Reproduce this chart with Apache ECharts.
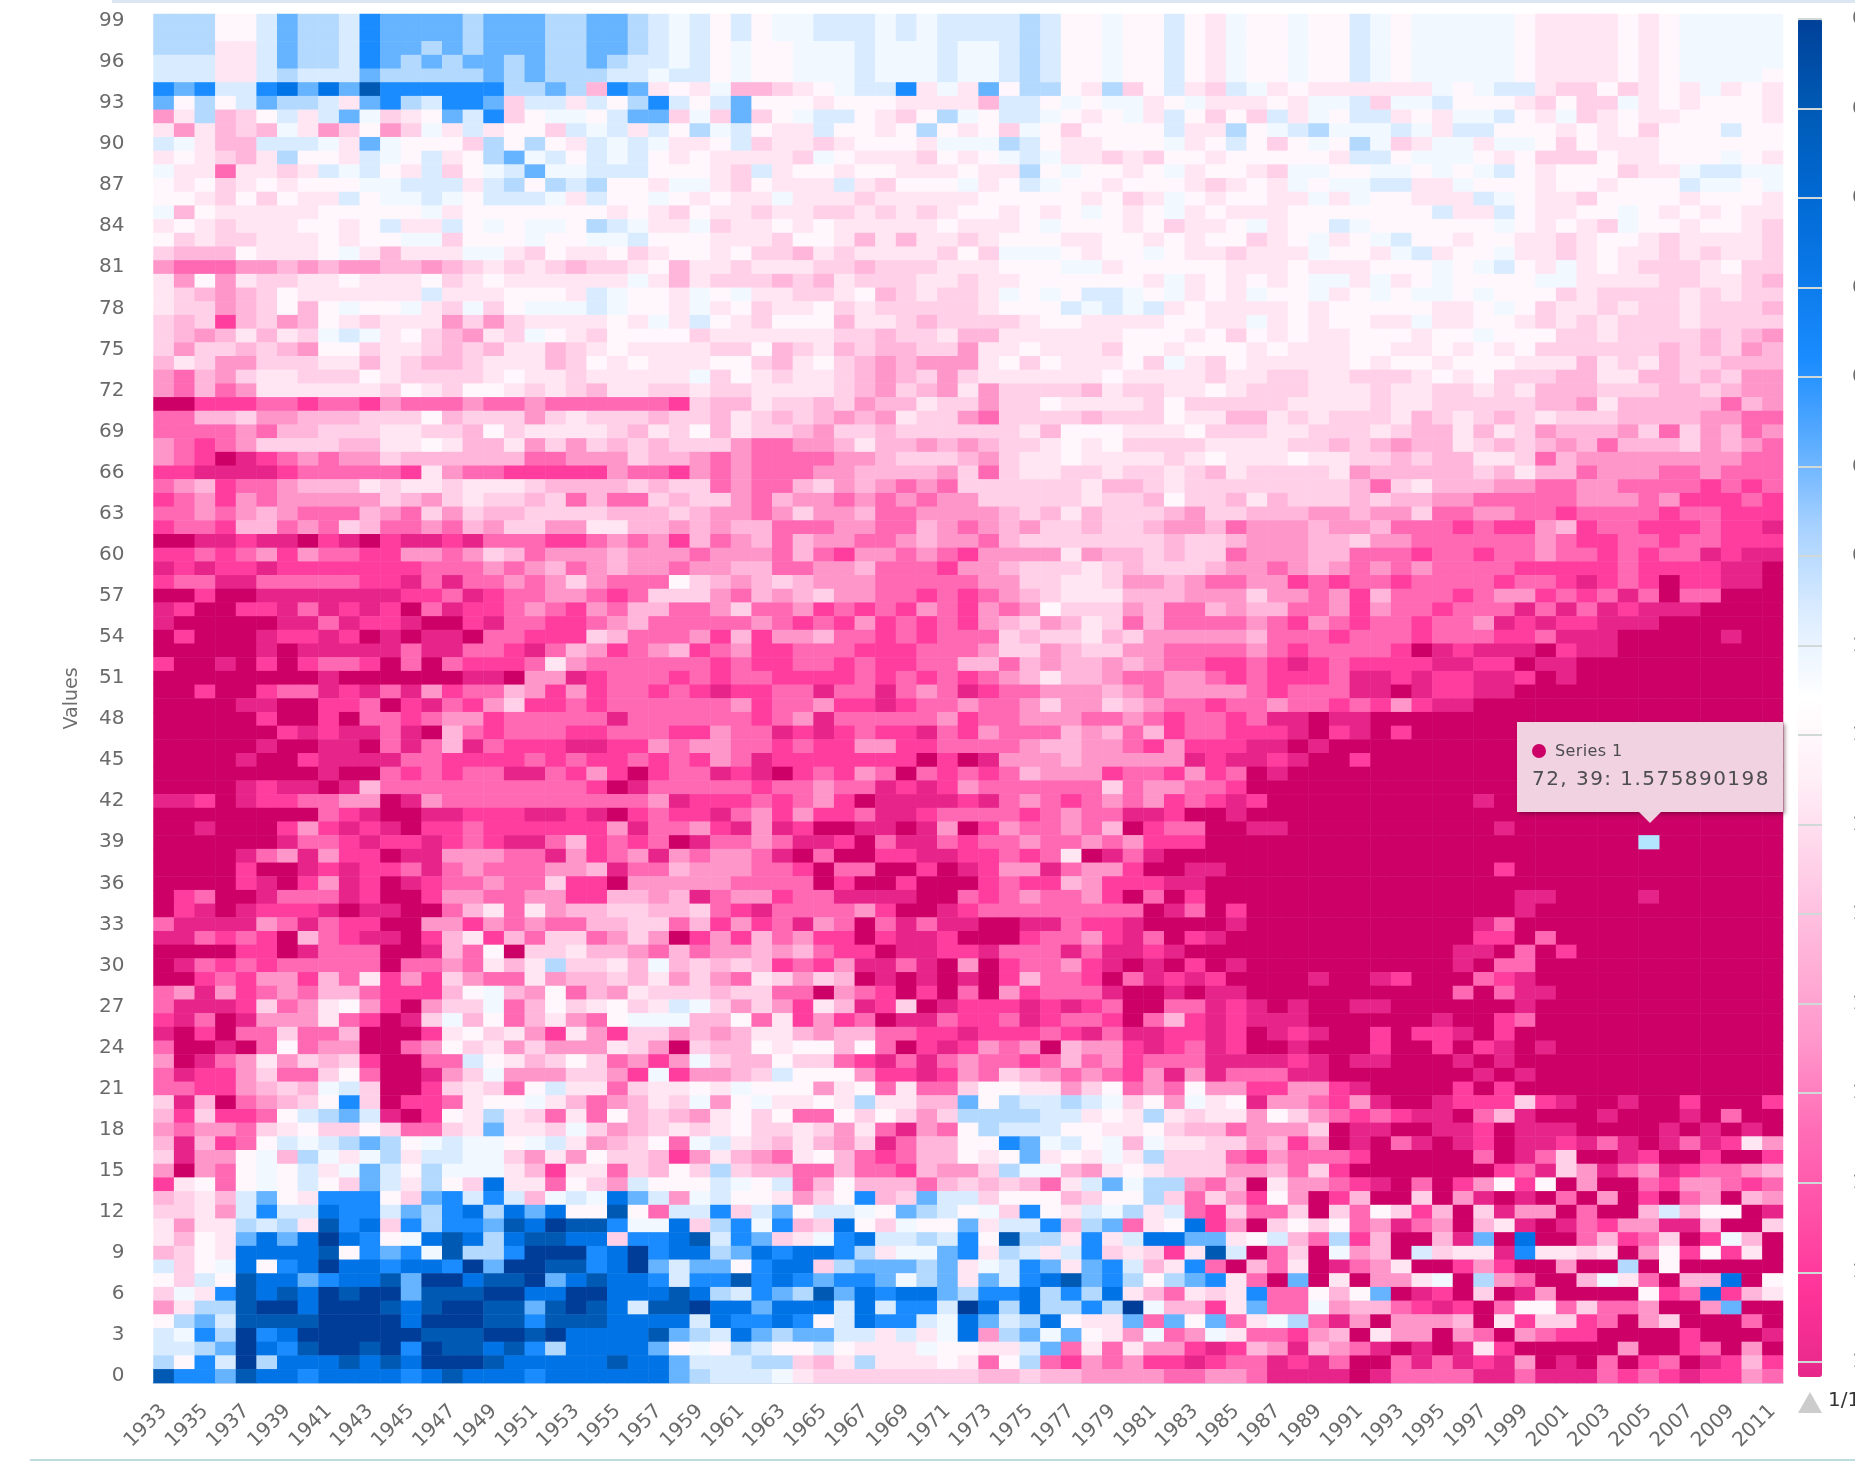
<!DOCTYPE html>
<html><head><meta charset="utf-8">
<style>html,body{margin:0;padding:0;background:#fff;overflow:hidden}#c{width:1855px;height:1466px;filter:blur(.55px)}</style>
<script src="https://cdn.jsdelivr.net/npm/echarts@6/dist/echarts.min.js"></script>
</head><body><div id="c"></div>
<script>
// Each letter is one cell's estimated value level. Rows run 99 -> 0.
const levelKeys = 'abcdefghijklmnopq';
const levelValues = [0.30,0.38,0.46,0.54,0.62,0.70,0.78,0.86,0.94,1.02,1.10,1.18,1.26,1.34,1.42,1.50,1.58];
const levelColors = ['#003d99','#0059b3','#0073e6','#1a8cff','#66b3ff','#b3d9ff','#d9ecff','#f2f8ff','#fff7fb','#ffe6f2','#ffd0e8','#ffb6da','#ff96ca','#ff69b4','#ff3d9e','#e6248a','#cc0066'];
const legendColors = ['#004099','#0059b3','#0068d1','#0a78e8','#1a8cff','#5cadff','#a8d2ff','#dcecff','#ffffff','#ffeef6','#ffd0e8','#ffb3d9','#ff99cc','#ff70b8','#ff52a8','#ff3399','#e6288a'];
const years = [];
for (let y = 1933; y <= 2011; y++) years.push(String(y));
const rowLabels = [];
for (let r = 0; r <= 99; r++) rowLabels.push(String(r));
const hoverPoint = [72, 39, 1.575890198];

const rowsLeft = `
fffiigeffg deeeefeeef feefghg
fffiigeffg deeeefeeef feefghg
fffjjgeffg deefefeeef feefghg
gggjjgeffg defefeefef fefgghg
gggjjgfggg efffffefef ffgghgg
dedggdcece bddddddffe fldejij
eifigeffgj edfgddekgg jgifdgi
mjflkigjge hkjiegdkih higeekh
jmjlklhjmk imkhjgjiik ghgjgif
ghjllggghj ehiiikfifi jghghjj
jijkljfiij ghigjifehg ighgiji
hjjnjjkjgh gijgkihgeh hgggiii
ijikjijiii hhgggjgfif gfiijhh
iijkikijjg ihhghigggh jgiihij
hlijjjjjii iiihjiiiii iijijki
jijkjjjiij igjjgihihh ifghjjh
ikjkkjjjij iihhkiiihi ihhgiii
klllijjjih jljjjhhjki jjikjii
mnnnmmlmlm mllmlkjkjk lkkjilj
jmimjkkjji jjjikjijjj jjjhjlj
jklmlkijjj jjjgjjjiii jghiijh
jkkmlkilih iihjkhkihh hghiijh
klkolkmlij kjjjmkmkjj jjijhjg
klmljljkhg hjiklmjkhi jkiiiik
kmkklklmii kjjklkljjl kjijjjj
ljkmmkkkjj ljkllkjjjl kijijjj
mnlmkjjkkk ijkkkkjijj kjjjjjh
mnlnmjjjjj jkijkiijkj kljjkkj
qqooonnonn omnnnmnnmn nnnnnok
nnllkmmlll kkkilkkkmk jkkklkk
nnnnmnllkk kjjkklikjj jjkljki
mnonmkkkkl ljjijlljmk mklklkk
mnoqponmnm mkllllllnn mmmkllm
oopppponnn nnojmnnooo oomnnom
nmlonnmlll jkjjkjjjkl lllklkk
onmomnmmmm mklmkjkklk nlnnklk
nnmnmlmnnn lmnkmkllkk kklllkl
onnollnmnk lnnmnlmkkm mjjllml
qqppoppqop qoppopnnno onmnmol
oononmomnn oommnmklnm mmlmmmn
popoopoooo ooonnnmnml nmlmmnm
onnppnnnnn oopnpnnmnm kmnnnik
qqoqqppppp ppoonponnm mnonkkk
poqqoopnpo poqnpoonmn omnllnn
pqqqqqppnp oopqqopnno onmlnnn
qoqqqpoopo qpqppqnnoo oklnnnm
qqqqqpqppp ppnppnnopn lmonmlo
oqqpqoqonn oqnqnooonj mnnnnnn
qqqqqqqqpq qqqqqppqmm ponnnon
qqoqqonnpo pnpmonnlmo monnono
qqqqppqqoo nqopnomkoo nonnnnn
qqqqqoqqoq nnonmmonnn nnpnnnn
qqqqqqopop pnpqlnonnn oonnnoo
qqqqqpqqpp qnpnlpnooo ppoomnm
qqqqpqqopp ppnnoooono noonono
qqqqqqqqpq qnononnppn omoqonn
qqqqpoppqp lnnnnnnnnn noqpnnn
ppoqpoonnm mqpmnnnnnn nnnnmpo
qqqqqqqqno pqqppooopp opqonoo
qqpqqqomop opqoonoooo oompnnm
qqqqqqpnno pooponoppn lononqp
qqqqpnmpmo oqppmmmnnp monmpmn
qqqqoqqpop oonpnmnnnm mlpnnlm
qqqqopqomp oqponnmnnk ooqmmmm
qonqqpnnnp oqqommnnmm oollmlp
qopqpooopq ppqqnljnjm llkkllk
nppppmnpno oqqmmomnmn nllkknl
ppnonoqlno ppqoljolnk knmkmqo
qqqqooqpnn nqqplniqkk jllmnln
qpnononnnn nqnnmnjljf kkjlhlk
qqonommoln jomokmnnjm llkljmk
nmpmonmnll nooolihlmi nlmjkkk
npppoknmji moqmkkhnli kjikjgh
opnqpmmmjn oqpkhlinlj mnihhhl
pqoqnnknnl qqqojikjmo jmokkml
nqqpqninmm qqnmikjmkm mmjkmqk
mqpnmjmklk oqqnngijlk iknmomh
npoomknnki nqqpmkhmmm kkmohom
nnoomlklhg kqqokjknig jjnkjji
kplqnmlkid kqoonjiihj lnmljkh
lokoonigfe gpqoijfjkn jnilklm
mnmmnkjikk iknnkjejjk hkmlkjk
lplonighgf efihghhihg jmlkinh
kpmmihlfhj hfjgghhkmj mikklom
mqmnihigjh egifhhhjlo jjnklik
ojinihigik egjfikcjjn ikmgiii
lkjlgeijdd dikedgdglh ghcegmh
kkjmgdggcd dgefdcfcec iibingg
jmjjfgfjbd ckdfddebca bbdhhck
jlijececac dihcbcfcbb cckddcb
lkijccccbi dedhbffdaa adcadcc
gkihcidcac cdccdaeaab bdcaege
ikgibccedc cbeaacbbae cbccdgd
khjdbcbcab aaebbbaacc aacccbc
mjffbaacaa abcbaabbeb abcgbba
ifegbbbbaa aacaaabbdb bbccccg
ghdfadcaaa aaabbbaaba ccccbef
ggfeacdbaa badabbcbdf cccceih
fidgafcccb cbcaaabccc ccbcceg
bddebccdcc ccdcbcccdc cccccef
`.trim().split('\n');

const rowsMiddle = `
igihhggghg hggggfgiih iigijh
igihhggghg hggggfgiih iigijh
ihiihhhghh hghhgfgiih iigijh
ihiihhhghh hghhgfgiih iigijh
ihiihhhghh hghhgfgiih iigijh
hllkjihggd jhjeiffijf kigjkg
geiiijiiij jjjlggihih hjihjj
kekihggijk ifhigghiji hjgiki
hgijjgiiji fijikhikii iigjjf
igkjjkjiii jhhhfgijji iihjig
jjjjkhijjj kijihghjjk jkiiji
jkgjiijiij jjijjfihii jihjii
jkijjjgjki iihjighiij iiijkj
ijjhjjjkjj jjjiiiiiji kjhiji
jjkjjkkjkj kjiijijihi jihjij
kjjijijjjj jijjjihiii jikjji
jjjkiijljl jjkjiiijji ijijii
jikkljkjjj jkikhhhiji ihijjk
jkjjjkklkk kjjjiiihhj iiiiij
kkklkljkkk jjkjjiiiii ijhjij
ihjjkkjilk jkkjhihigg hihjij
jikjjikjkk kkkjiiighg hgjijj
ijkiiiljjk lkkkkjiijj jjiijj
jjjjjjkklk kjlljjjjjj iiijik
kkilkjlkll kkmjjijjjk iijiii
iikljiklml mmmjikijjj ikhjki
kijkjjklml kmkjjjjjji jjjjkj
kkjjjjklmk lmjmkkkklj kkjjij
lljkklkmll jkkmkkijjj jkikkk
ljklklmlmj kkmnkkkklk kkijjl
ljkklmkklk kkkkkjliii jjjikk
kmnnmmljll mlmlkkjiji kkkkjj
nmnnnnmmlk kklmkjjijj jjkjij
nmnnnmmlll lmknkjjkkj kkjklj
nmnnlkmlmn mnkkkkkkjl lkjkkk
kmnlmmnmnm nmmkkkkkjk klikkl
mmnmkmmlnn mmmmlkljlk kklmkk
mllnnnmmnn lmnmlmkklk klmmln
nmlnlmmnnm lmmnlkkkkk kklkkl
mmmnlnommn mnommmmjml lklkkn
mllnnmmlnn nommlkkkjk lkkklm
lmlklmmmnn nnnmmkkjjk mmlmnn
mnlmlkmmnn ononmlkjjj lllmmm
mknnmonono mnomnmikkk mlnnlm
nnmnonomon onomlkmljk nlnnnn
olommlnnon onnnklkkjl kmmmmm
nmoonnnooo nnnmkkmlkk mmnnnn
onoonnonoo nnllnlmllm lmnnoo
onnoooonon ononmljllm nnmmno
poonnpnnpn mnponnmmml mnmmmm
nmonnmoopo nnmnnmkmmk lmnnon
nnonmpnnnn nmonnmmmnn mnonno
mnnpoponoo pnomnnnlml nlonno
mnnonoommo onnnnmllmm nomooo
mnpooooooo qoqpmmmlmm mmmpop
popqonomnq nononlmmmo nnomon
nnonnmnnpo pomnnnnnnk nmmnno
oononmoqpp ppopnmnonm nmonop
pnmomoonpp onnnnonmnn ppoqqp
opmpoqqppq pmqomnnmnl qonnqq
nnmnppoqnp pnonnmnnmn moooqq
mmnpqnqqoo ppoononjqp npqqqq
mmnnoqnnqq oqpommpnmm oqqppq
mnnnnqoqqo qqqonoolmo ooppqq
nmmonnpppp qqnonmnnmo qnqoqq
nopnnnnmoq qponnnnnnn nqpnqo
omonpmnqnp nppqqppnoo pqqqqp
molnmooqop poqqqonnmo pnqopq
mmlmlnooqp poopnnnpnp popqqq
lklonomppn pqmqonnmop qpqoqp
mnjkmklqpq pqpqolnnoq npopoq
lkknnqmnoq oqnqmonnnp qqpqpp
kmkmojlpok qpooopopon qqnnpo
linjomonqp pnoonponno qnlopo
mljjlmllnn oopooonopn ppoopo
llijiilinq opomnmqlmm oponpo
kllikknopn pnmnnonlnm onnnpp
mlkgiiimoo pomnklmnmn ompmpn
jhiiimjinj nnkiijjmki nmnimm
mihjjijfjj lleifggfgh kimhji
jikinnikik mkffffggji jfjkjj
jikkjkmjnp mnifgggiij jiklln
gjkljlmkpn lliidehgih lhjjkk
jlmnjilnon llijiejijh jfkkkn
fkllnnlnno lmmkfhhlmj ijkkkm
ghignlilll nlklklnjge hffmnl
giijmkidlk eggkiiilki ifknkm
dkgeigghie fgihkdijgh fjgnok
fdhdlkcikh iiejggdlfe njicom
gdekjhdcgg fgdibffjdj gcceej
fecdccdfjh hedjfgjgdk jkojbg
eidcckfeee fejhgdejed gljdnq
dbdcdeddeh fejegdcbed fifedj
fgdefbecdc cefddcfdfc jlnjkj
ccecccgcgd dgacfcffdf ahlloj
cddcdigcdd ghcegfcijj eneien
gcefeeggjg jhcmfeheij mhnmhj
ifgiigijjj hiijjgenjn jmmopo
ggffkljfjj jijnifnomn moopon
ggghjkkkkk kkkllkllmm mmnnmm
`.trim().split('\n');

const rowsRight = `
iihiighihh hhhijjjjij ihhhhh
iihiighihh hhhijjjjij ihhhhh
iihiighihh hhhijjjjij ihhhhh
iihiighihh hhhijjjjij ihhhhh
iihiighihh hhhijjjjij ihhhhi
hjijjjjjjh ihggjkkikj ijhjij
jijhhgkhhg iiijkikkhj ijiiij
kgjhiggjij hhgijhkjij jiiiij
ihgfhhhghj ggiiijijik iiigii
ikihifhkjh hjhhikijjj iiiiii
iiiijggihh hijikkkijj iiihij
jkhhiihhih ihgijiiikj jhgghh
ijhihhggjj hiiijiijii ighhih
ijjhjhiijj jghijjkiii ijiiij
jjiiiiiiig jjgijjiihi jijijj
hjiighiiii iihijijkhi ijiijk
kjihjihgii jiijjkjiij kjjjjk
jjjhiijhgj iihjjkjijj kjkjjk
jjijjjiiih ihgijhjijk kkjikk
ijihhjhjih iiiihhjjjj kkjjkl
hiihjihihh ihiiikjkkk kjkjkk
jjijiiiiij jihikjjkjk kjkkkl
hjijiijjhj jiijkjkjkk kjkkkk
ijijjiiiji ihiiikkjkk kklklm
jijjjiijji jijikkkkkk lklkml
jjjjjijiij iiijjjljkj lkklll
jkkjjkkkji jikkklljjl lklkmm
kkkjjjkjjk kjkjlllkkk llklmm
kkjjjjkjjk kkkkllmjll lllnlm
ljkjkkkjlk jklkjkkkll llmmnn
kjjkkkjkll jljkmlllmk nkmlnm
jjkklklmll jklklmlnll lkmlmn
jjijjkklkl ljjknlmmmm mmmmnn
kkkkjmllll lkljllnmmm nnmnnn
kkkkklnkjl llmmnnmmnn nnonon
jlkkklkllm mnnnnnmmmn mooono
lllmmlmmkn nmmnnonnnn onnooo
mmmlmmlnnn onoomlonno oonoop
mmmllkmmnn nnnnmnoonn onnooo
mmmllnnnon nonnmnnono nnpopp
mnmlmnmnmn nnnooooono oooppq
mmononnonn nnonnopono qooppq
kmmnmolnnn onmmononpn qnnqqq
llnnmomnno nnnpnpnpop ppqqqq
mnomnonnon nmpopooppp qqqqqq
lnnnonnnon nnoonpppqq qqqpqq
mnonnnnoqp opppqoppqq qqqqqq
noponoooop pooqppqqqq qqqqqq
nooonppopo oppoqpqqqq qqqqqq
nonnnppqpo oppqqqqqqq qqqqqq
nmnnonomop pqqqqqqqqq qqqqqq
nppqppqqqq qqqqqqqqqq qqqqqq
oopqopqoqq qqqqqqqqqq qqqqqq
ppqpqqqqqq qqqqqqqqqq qqqqqq
popqqoqqqq qqqqqqqqqq qqqqqq
qpqqqqqqqq qqqqqqqqqq qqqqqq
qqqqqqqqqq qqqqqqqqqq qqqqqq
oqqqqqqqqq qpqqqqqqqq qqqqqq
qqqqqqqqqq qqqqqqqqqq qqqqqq
ppqqqqqqqq qqpqqqqqqq qqqqqq
qqqqqqqqqq qqqqqqqqqq qqqqqq
qqqqqqqqqq qqqqqqqqqq qqqqqq
qqqqqqqqqq qqoqqqqqqq qqqqqq
qqqqqqqqqq qqqqqqqqqq qqqqqq
qqqqqqqqqq qqqppqqqqp qqqqqq
qqqqqqqqqq qqqpqqqqqq qqqqqq
qqqqqqqqqq qpnqqqqqqq qqqqqq
qqqqqqqqqq qooqnqqqqq qqqqqq
qqqqqqqqqq ppqnqoqqqq qqqqqq
qqqqqqqqqq pqnnqqqqqq qqqqqq
qqqpqqpoqq qnopqqqqqq qqqqqq
qqqqqqqqqq nqnppqqqqq qqqqqq
pqpqqppqqq qqqpqqqqqq qqqqqq
pppqqqqqqp qqonqqqqqq qqqqqq
qpopqqoqoo pqoqqqqqqq qqqqqq
qqpqqqoqqo qopqpqqqqq qqqqqq
ppopqppqqq pqpqqqqqqq qqqqqq
nnppqqqqqq qpqpqqqqqq qqqqqq
oommopqqqq oqoqqqqqqq qqqqqq
pmmnompqqp oookopqqpq qoqqqo
mikmnonopp qnlpqqqpqq qpqnqq
mmmkqppqqp poqpppqqqq pqpqpq
mlomqpqnpq poqppopnpq pnpojm
omnnnoqqqq qnqpnkqqpo qqoqqo
mlnkoqqqqq qqonpkmpnm ponnml
qjmmnopqnq omioiqmqqn ommnon
oimqolqqkq mpqpqnqmqo qnmqlm
nnkqknikol qkpmmqnqql gliiqp
qkikinmpnm qljpqpnomm pplqqk
iglnfolqql peqcqqnlon kqohlq
qnkqhmlqgk jjpdjjkjqm ioiojq
lnjqpnmjqq omoqqmqqfq iqqqqq
nqeqjqmmjh qfmnqqlhjn qllcqi
dnnilieqpo qkqpmqqqqi oncolj
ennhmllnop oqniinknnm qqmeqq
jhfnpmqmmm lqjokkonqm kqqqnq
nnomlqjmmq mnqmnooqqq qoqqqp
lmplmnpqpq pjoqqqqqmq qonqmq
npopnqqnpn popmqpqnqo nqpolo
nppppqpnnn nppnpppnon opoomn
`.trim().split('\n');

const cells = [];
rowsLeft.forEach((_, i) => {
  const row = 99 - i;
  const text = (rowsLeft[i] + rowsMiddle[i] + rowsRight[i]).replace(/\s/g, '');
  for (let c = 0; c < text.length && c < years.length; c++) {
    cells.push([c, row, levelValues[levelKeys.indexOf(text[c])]]);
  }
});

const chart = echarts.init(document.getElementById('c'), null, {renderer:'canvas', width:1855, height:1466});
const FONT = 'DejaVu Sans';
chart.setOption({
  animation:false,
  backgroundColor:'#ffffff',
  grid:[
    {left:153.5, top:14, width:1629.5, height:1369},
    {left:1822, top:19, width:1, height:1358}
  ],
  xAxis:[
    {type:'category', data:years, gridIndex:0,
     axisLine:{lineStyle:{color:'#c0d0e0',width:1.5}},
     axisTick:{alignWithLabel:true, length:18, interval:1, lineStyle:{color:'#c0d0e0',width:1.5}},
     axisLabel:{interval:1, rotate:45, margin:25, color:'#6a6a6a', fontFamily:FONT, fontSize:20},
     splitLine:{show:false}},
    {type:'value', gridIndex:1, show:false, min:0, max:1}
  ],
  yAxis:[
    {type:'category', data:rowLabels, gridIndex:0, name:'Values', nameLocation:'middle', nameGap:72, nameRotate:90,
     nameTextStyle:{color:'#6e6e6e', fontFamily:FONT, fontSize:19},
     axisLine:{show:false}, axisTick:{show:false},
     axisLabel:{interval:2, margin:29, color:'#6a6a6a', fontFamily:FONT, fontSize:20},
     splitLine:{show:false}},
    {type:'value', gridIndex:1, position:'left', offset:0, inverse:true, min:0.3, max:1.817, interval:0.1, z:10,
     axisLine:{show:false, onZero:false},
     axisTick:{inside:false, length:24, lineStyle:{color:'#d0d8d8',width:2}},
     axisLabel:{inside:true, margin:30, color:'#6a6a6a', fontFamily:FONT, fontSize:20, showMaxLabel:false},
     splitLine:{show:false}}
  ],
  visualMap:[
    {type:'continuous', show:false, seriesIndex:0, min:levelValues[0], max:levelValues[levelValues.length-1],
     inRange:{color:levelColors}},
    {type:'continuous', show:true, seriesIndex:2, min:0.3, max:1.817, inverse:true, calculable:false, realtime:false, z:2,
     left:1798, top:19, itemWidth:24, itemHeight:1358, text:null, showLabel:false, hoverLink:false, padding:0,
     inRange:{color:legendColors}, textStyle:{color:'transparent',fontSize:1}}
  ],
  tooltip:{trigger:'item', triggerOn:'none', alwaysShowContent:true, transitionDuration:0,
    position:[1517,722], padding:0, borderWidth:0, backgroundColor:'transparent', extraCssText:'box-shadow:none;overflow:visible;',
    formatter:function(p){
      const v=p.value;
      return '<div style="position:relative;width:266px;height:90px;background:rgba(247,247,247,.85);box-shadow:2px 2px 4px rgba(60,0,30,.45);font-family:\'DejaVu Sans\';color:#4d4d4d;">'
       +'<span style="position:absolute;left:15px;top:22px;width:14px;height:14px;border-radius:7px;background:#cc0066"></span>'
       +'<span style="position:absolute;left:38px;top:19px;font-size:16px;line-height:20px;letter-spacing:.4px;white-space:nowrap">'+p.seriesName+'</span>'
       +'<span style="position:absolute;left:15px;top:43px;font-size:20px;line-height:26px;letter-spacing:1.45px;white-space:nowrap">'+v[0]+', '+v[1]+': '+v[2]+'</span>'
       +'<span style="position:absolute;left:122px;top:90px;width:0;height:0;border-left:11px solid transparent;border-right:11px solid transparent;border-top:11px solid rgba(247,247,247,.85)"></span>'
       +'</div>';
    }},
  series:[
    {type:'heatmap', name:'Series 1', xAxisIndex:0, yAxisIndex:0, data:cells, progressive:0, silent:true, itemStyle:{borderWidth:0}},
    {type:'heatmap', name:'Series 1', xAxisIndex:0, yAxisIndex:0, data:[hoverPoint], silent:true, z:5, itemStyle:{color:'#b3e5ff',borderWidth:0}},
    {type:'heatmap', name:'legend', xAxisIndex:0, yAxisIndex:0, data:[], silent:true}
  ],
  graphic:[
    {type:'rect', shape:{x:112,y:0,width:1743,height:3}, style:{fill:'#dce6f2'}, silent:true},
    {type:'rect', shape:{x:30,y:1459,width:1825,height:2}, style:{fill:'#bcdcdf'}, silent:true},
    {type:'polygon', shape:{points:[[1810,1392],[1822,1413],[1798,1413]]}, style:{fill:'#cccccc'}, silent:true},
    {type:'text', left:1828, top:1391, style:{text:'1/1', fill:'#333333', font:'20px "DejaVu Sans"'}, silent:true}
  ]
});
chart.dispatchAction({type:'showTip', seriesIndex:1, dataIndex:0});
</script></body></html>
